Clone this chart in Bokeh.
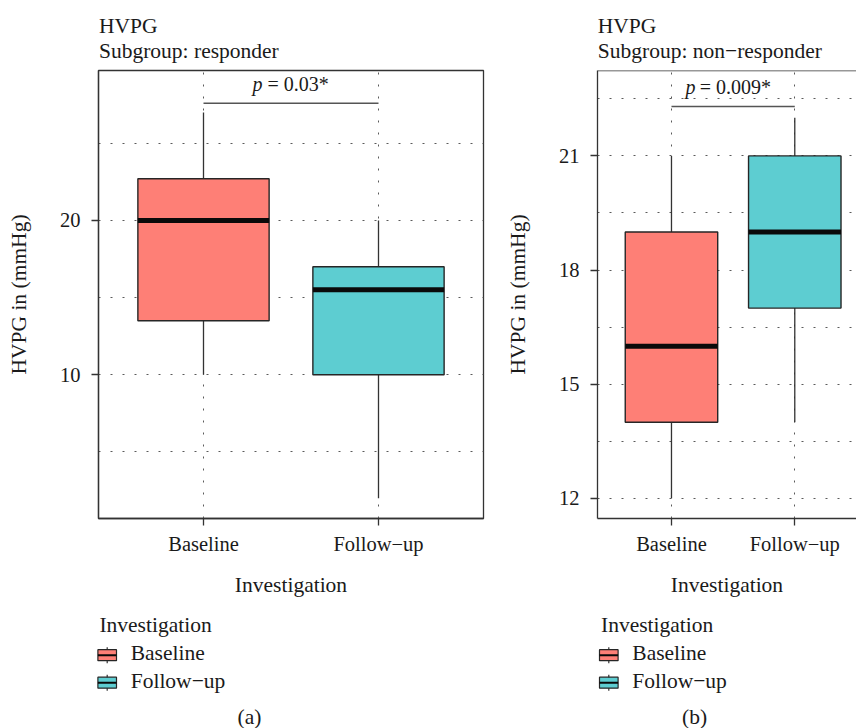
from bokeh.plotting import figure
from bokeh.layouts import row, column
from bokeh.models import Range1d, FixedTicker, Span, ColumnDataSource
from bokeh.embed import file_html
from bokeh.resources import INLINE
from bokeh.core.properties import value

FONT = "Liberation Serif"
FS = "21.5px"
FS_TICK = "20.5px"
FS_P = "20px"
TEXT = "#1a1a1a"
LINE = "#333333"
GRID = "#5a5a5a"

# ---------------- data ----------------
categories = ["Baseline", "Follow−up"]
fill_colors = ["#FE7F76", "#5DCDD1"]

# panel (a): responder
resp_whisker_low = [10, 2]
resp_q1 = [13.5, 10]
resp_median = [20, 15.5]
resp_q3 = [22.7, 17]
resp_whisker_high = [27, 20]
resp_yticks = [10, 20]
resp_yminor = [5, 15, 25]
resp_p = "0.03*"
resp_bracket = 27.6
resp_yrange = (0.68, 29.72)

# panel (b): non-responder
non_whisker_low = [12, 14]
non_q1 = [14, 17]
non_median = [16, 19]
non_q3 = [19, 21]
non_whisker_high = [21, 22]
non_yticks = [12, 15, 18, 21]
non_yminor = [13.5, 16.5, 19.5, 22.5]
non_p = "0.009*"
non_bracket = 22.3
non_yrange = (11.47, 23.245)

title_main = "HVPG"
subtitles = ["Subgroup: responder", "Subgroup: non−responder"]
x_label = "Investigation"
y_label = "HVPG in (mmHg)"
legend_title = "Investigation"
captions = ["(a)", "(b)"]

BOX_W = 0.75
HEAD_H = 66
PANEL_H = 539
LEG_H = 123


def style_text(size=FS, **kw):
    d = dict(text_font=value(FONT), text_font_size=size, text_color=TEXT)
    d.update(kw)
    return d


def panel(width, bl, br, x_end, yr, yticks, yminor, lo, q1, med, q3, hi,
          bracket, ptext, p_off, eq_off, full_frame):
    p = figure(width=width, height=PANEL_H, x_range=Range1d(0.4, x_end),
               y_range=Range1d(*yr), output_backend="svg", toolbar_location=None,
               title=None, min_border_left=bl, min_border_right=br,
               min_border_top=4, min_border_bottom=87)
    p.outline_line_color = LINE if full_frame else None
    p.outline_line_width = 1.3
    p.outline_line_alpha = 1.0
    if not full_frame:
        p.add_layout(Span(location=yr[1], dimension="width",
                          line_color=LINE, line_width=1.3))

    xs = [i + 1 for i in range(len(categories))]
    src = ColumnDataSource(dict(
        x=xs, lo=lo, q1=q1, med=med, q3=q3, hi=hi, color=fill_colors,
        left=[x - BOX_W / 2 for x in xs], right=[x + BOX_W / 2 for x in xs]))

    # grids
    yt = FixedTicker(ticks=yticks, minor_ticks=yminor)
    xt = FixedTicker(ticks=xs)
    p.yaxis.ticker = yt
    p.xaxis.ticker = xt
    p.ygrid.ticker = yt
    p.xgrid.ticker = xt
    for g in (p.xgrid, p.ygrid):
        g.grid_line_color = GRID
        g.grid_line_dash = "2 10"
        g.grid_line_width = 1
    p.ygrid.minor_grid_line_color = GRID
    p.ygrid.minor_grid_line_dash = "2 10"
    p.ygrid.minor_grid_line_width = 1

    # boxes
    p.segment(x0="x", x1="x", y0="q3", y1="hi", source=src,
              line_color=LINE, line_width=1.3)
    p.segment(x0="x", x1="x", y0="lo", y1="q1", source=src,
              line_color=LINE, line_width=1.3)
    p.vbar(x="x", width=BOX_W, bottom="q1", top="q3", source=src,
           fill_color="color", line_color="#262626", line_width=1.4)
    p.segment(x0="left", x1="right", y0="med", y1="med", source=src,
              line_color="#0a0a0a", line_width=5)

    # significance bracket
    p.segment(x0=[xs[0]], x1=[xs[1]], y0=[bracket], y1=[bracket],
              line_color="#555555", line_width=1.5)
    mid = (xs[0] + xs[1]) / 2
    p.text(x=[mid], y=[bracket], text=["p"], x_offset=p_off, y_offset=-19.4,
           **style_text(FS_P, text_font_style="italic", text_align="right",
                        text_baseline="middle"))
    p.text(x=[mid], y=[bracket], text=["= " + ptext], x_offset=eq_off,
           y_offset=-19.4,
           **style_text(FS_P, text_align="left", text_baseline="middle"))

    # axes
    xa = p.xaxis[0]
    ya = p.yaxis[0]
    xa.major_label_overrides = {x: c for x, c in zip(xs, categories)}
    xa.axis_label = x_label
    ya.axis_label = y_label
    for ax in (xa, ya):
        ax.axis_line_color = LINE
        ax.axis_line_width = 1.3
        ax.major_tick_line_color = LINE
        ax.major_tick_line_width = 1.3
        ax.major_tick_out = 7
        ax.major_tick_in = 0
        ax.minor_tick_line_color = None
        ax.major_label_text_font = FONT
        ax.major_label_text_font_size = FS_TICK
        ax.major_label_text_color = TEXT
        ax.axis_label_text_font = FONT
        ax.axis_label_text_font_size = FS
        ax.axis_label_text_font_style = "normal"
        ax.axis_label_text_color = TEXT
    xa.major_label_standoff = 7
    xa.axis_label_standoff = 15
    ya.major_label_standoff = 11
    ya.axis_label_standoff = 26
    return p


def header(width, x0, sub):
    h = figure(width=width, height=HEAD_H, x_range=Range1d(0, width),
               y_range=Range1d(HEAD_H, 0), x_axis_type=None, y_axis_type=None,
               output_backend="svg", toolbar_location=None, title=None,
               min_border=0)
    h.outline_line_color = None
    h.text(x=[x0, x0], y=[25, 50.6], text=[title_main, sub],
           **style_text(text_align="left", text_baseline="middle"))
    return h


def legend_fig(width, x0, caption, cap_x):
    L = figure(width=width, height=LEG_H, x_range=Range1d(0, width),
               y_range=Range1d(LEG_H, 0), x_axis_type=None, y_axis_type=None,
               output_backend="svg", toolbar_location=None, title=None,
               min_border=0)
    L.outline_line_color = None
    L.text(x=[x0], y=[19.5], text=[legend_title],
           **style_text(text_align="left", text_baseline="middle"))
    kx = x0 + 7.8
    ys = [49.7 + 27.5 * i for i in range(len(categories))]
    L.segment(x0=[kx] * len(ys), x1=[kx] * len(ys), y0=[y - 8 for y in ys],
              y1=[y + 8 for y in ys], line_color=LINE, line_width=1.2)
    L.quad(left=[kx - 9.3] * len(ys), right=[kx + 9.3] * len(ys),
           top=[y - 5.5 for y in ys], bottom=[y + 5.5 for y in ys],
           fill_color=fill_colors, line_color="#262626", line_width=1.2)
    L.segment(x0=[kx - 9.3] * len(ys), x1=[kx + 9.3] * len(ys), y0=ys, y1=ys,
              line_color="#0a0a0a", line_width=2)
    L.text(x=[x0 + 31.3] * len(ys), y=[y - 2 for y in ys], text=categories,
           **style_text(text_align="left", text_baseline="middle"))
    L.text(x=[cap_x], y=[111], text=[caption],
           **style_text(text_align="center", text_baseline="middle"))
    return L


WA, WB = 498, 358

pa = panel(WA, 98, 15, 2.6, resp_yrange, resp_yticks, resp_yminor,
           resp_whisker_low, resp_q1, resp_median, resp_q3, resp_whisker_high,
           resp_bracket, resp_p, -28.6, -23.6, True)
pb = panel(WB, 99, 0, 0.4 + 259 / 123.3, non_yrange, non_yticks, non_yminor,
           non_whisker_low, non_q1, non_median, non_q3, non_whisker_high,
           non_bracket, non_p, -37.7, -33.4, False)

ha = header(WA, 98.5, subtitles[0])
hb = header(WB, 99.3, subtitles[1])
la = legend_fig(WA, 98.9, captions[0], 249)
lb = legend_fig(WB, 102.5, captions[1], 196)

layout = column(row(ha, hb), row(pa, pb), row(la, lb))

open("out.html", "w").write(file_html(layout, INLINE))
